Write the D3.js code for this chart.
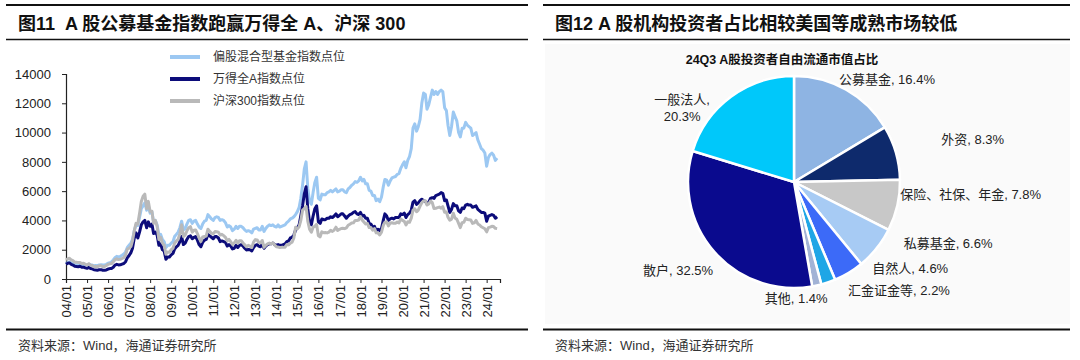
<!DOCTYPE html>
<html><head><meta charset="utf-8">
<script src="https://cdn.jsdelivr.net/npm/d3@7"></script>
<style>
html,body{margin:0;padding:0;background:#fff;}
svg{display:block;font-family:"Liberation Sans",Arial,"Noto Sans CJK SC",sans-serif;}
</style></head><body>
<svg id="c" width="1080" height="360"></svg>
<script>
// ---------- DATA ----------
const leftTitle = "图11  A 股公募基金指数跑赢万得全 A、沪深 300";
const rightTitle = "图12 A 股机构投资者占比相较美国等成熟市场较低";
const sourceText = "资料来源：Wind，海通证券研究所";
const seriesNames = ["偏股混合型基金指数点位", "万得全A指数点位", "沪深300指数点位"];
const firstMonth = [2004, 0];
const lastMonth = [2024, 6];
const fundIndex = [
1050,1120,1160,1100,1080,1030,1020,1000,1020,990,1000,970,
950,1010,960,950,900,920,910,960,970,950,960,1000,
1080,1120,1160,1300,1450,1550,1500,1550,1620,1700,1850,2150,
2300,2450,2700,3300,3700,3650,4200,4800,5000,5200,4700,5000,
4500,4600,3900,4000,3700,3000,3050,2700,2550,2150,2300,2300,
2450,2550,2900,3050,3200,3500,3950,3350,3450,3750,4000,4050,
3800,3950,4000,3750,3550,3450,3750,3950,4000,4400,4250,4100,
4000,4200,4250,4200,4000,4050,4000,3850,3550,3650,3550,3300,
3400,3600,3450,3600,3600,3500,3350,3250,3300,3250,3150,3400,
3450,3500,3350,3350,3600,3250,3450,3600,3700,3650,3700,3600,
3550,3700,3550,3600,3650,3700,3850,3950,4100,4150,4250,4400,
4600,4900,5500,6400,7500,8000,6200,5300,5100,5900,6600,6950,
5500,5400,5800,5750,5750,5900,5950,6050,5950,6050,6150,5950,
6000,6100,6100,5950,5900,6150,6250,6400,6500,6650,6600,6700,
6950,6700,6800,6500,6500,6050,6000,5700,5700,5350,5450,5280,
5600,6300,6800,6750,6400,6700,6900,6950,7000,7150,7200,7550,
7800,8000,7600,8100,8350,8900,10300,10600,10100,10400,10900,12000,
12700,12600,11600,11900,12400,12900,12600,12800,12600,12800,12900,12800,
11700,11500,10500,9800,10400,11400,11100,10800,10000,9700,10300,10300,
10700,10500,10400,10300,9800,9900,10000,9500,9200,8900,8800,8600,
7700,8300,8500,8600,8450,8100,8250];
const windA = [
1000,1080,1100,1000,950,870,860,840,870,800,810,760,
730,790,720,690,630,620,600,640,640,600,600,620,
680,710,720,800,950,1000,960,970,1020,1060,1180,1450,
1600,1800,2100,2800,3150,2800,3200,3700,3900,4000,3500,3900,
3600,3750,3100,3200,3000,2300,2400,2000,1900,1350,1500,1500,
1650,1750,2050,2200,2300,2550,2900,2350,2450,2700,2900,2950,
2750,2850,2900,2650,2350,2200,2500,2650,2700,3050,2950,2850,
2750,2900,2900,2800,2550,2600,2550,2500,2250,2350,2250,2050,
2100,2300,2150,2300,2350,2250,2100,1980,2020,2000,1920,2150,
2300,2350,2250,2200,2400,2100,2250,2350,2400,2400,2450,2350,
2300,2350,2300,2300,2350,2400,2550,2600,2800,2850,3000,3350,
3500,3700,4300,5000,5800,6300,4800,3900,3700,4300,4800,5000,
3900,3800,4100,4050,4050,4150,4150,4250,4200,4300,4450,4250,
4350,4450,4450,4300,4150,4300,4400,4450,4550,4600,4450,4400,
4550,4300,4350,4150,4150,3800,3750,3550,3600,3300,3400,3300,
3450,4000,4450,4300,4000,4100,4150,4100,4200,4200,4200,4450,
4400,4500,4200,4400,4500,4700,5250,5350,5100,5200,5350,5450,
5350,5300,5150,5250,5500,5550,5500,5700,5750,5800,5900,5850,
5350,5400,5000,4550,4750,5150,5000,5000,4650,4550,4850,4800,
5050,5100,5050,5050,4900,4950,5000,4750,4650,4550,4550,4500,
3950,4300,4350,4400,4350,4150,4250];
const csi300 = [
1300,1380,1420,1300,1250,1150,1150,1120,1130,1060,1080,1000,
960,1040,950,920,840,860,840,900,900,850,850,923,
1000,1040,1050,1180,1320,1380,1330,1340,1400,1460,1650,2040,
2100,2220,2600,3300,3800,3750,4470,5300,5650,5800,4800,5300,
4600,4620,3800,4000,3600,2700,2850,2450,2300,1700,1850,1820,
2000,2100,2450,2600,2700,3100,3700,2900,3000,3300,3500,3575,
3200,3330,3350,3100,2800,2560,2870,2900,2930,3400,3250,3130,
3080,3240,3230,3200,3000,3050,2960,2850,2600,2700,2550,2350,
2460,2640,2450,2620,2620,2460,2330,2200,2300,2250,2150,2520,
2690,2670,2500,2470,2630,2160,2300,2400,2450,2400,2470,2330,
2200,2180,2150,2160,2160,2170,2350,2330,2450,2510,2800,3530,
3430,3570,3980,4700,4800,4950,3950,3400,3200,3530,3600,3730,
2950,2880,3220,3160,3170,3150,3200,3330,3250,3340,3540,3310,
3390,3450,3460,3440,3490,3670,3740,3820,3840,4000,4000,4030,
4270,4020,3900,3760,3800,3510,3520,3330,3440,3150,3140,3010,
3200,3670,3870,3910,3630,3830,3840,3800,3810,3890,3830,4100,
4000,3940,3690,3910,3870,4160,4700,4800,4590,4700,4980,5210,
5350,5340,5050,5120,5330,5220,4810,4830,4870,4910,4830,4940,
4560,4580,4220,4020,4090,4490,4170,4080,3800,3510,3850,3870,
4150,4060,4050,4030,3800,3840,4000,3760,3690,3570,3500,3430,
3220,3510,3540,3600,3580,3460,3440];
const xTickLabels = ["04/01","05/01","06/01","07/01","08/01","09/01","10/01","11/01","12/01","13/01","14/01","15/01","16/01","17/01","18/01","19/01","20/01","21/01","22/01","23/01","24/01"];
const yTickValues = [0,2000,4000,6000,8000,10000,12000,14000];

const pieTitle = "24Q3 A股投资者自由流通市值占比";
const pieCategories = ["公募基金","外资","保险、社保、年金","私募基金","自然人","汇金证金等","其他","散户","一般法人"];
const pieValues = [16.4, 8.3, 7.8, 6.6, 4.6, 2.2, 1.4, 32.5, 20.3];

// ---------- STYLE / LAYOUT ----------
const seriesColors = ["#9CC8F2", "#0C0C7A", "#B9B9B9"];
const pieColors = ["#8EB4E3","#0E2A6C","#C8C8C8","#A7CBF4","#3C6AF8","#1FA6E6","#A2B3D6","#0A0A8E","#00C8FA"];
const labelNudge = [[26,16],[48,-5],[44,-18],[48,-24],[46,-30],[61,-20],[-27,-16],[-14,-2],[-31,35]];

const svg = d3.select("#c");

function frame(x0, x1) {
  svg.append("line").attr("x1",x0).attr("x2",x1).attr("y1",5).attr("y2",5).attr("stroke","#111").attr("stroke-width",2);
  svg.append("line").attr("x1",x0).attr("x2",x1).attr("y1",39.5).attr("y2",39.5).attr("stroke","#111").attr("stroke-width",1.6);
  svg.append("line").attr("x1",x0).attr("x2",x1).attr("y1",329.5).attr("y2",329.5).attr("stroke","#111").attr("stroke-width",2);
}
svg.append("rect").attr("x",545).attr("y",44).attr("width",525).attr("height",280).attr("fill","#fafafa");
frame(6, 528);
frame(543, 1070);

svg.append("text").attr("x",18).attr("y",30).attr("font-size",18).attr("font-weight","bold").attr("fill","#111")
  .style("white-space","pre").text(leftTitle);
svg.append("text").attr("x",555).attr("y",30).attr("font-size",18).attr("font-weight","bold").attr("fill","#111")
  .style("white-space","pre").text(rightTitle);
svg.append("text").attr("x",18).attr("y",350).attr("font-size",13).attr("fill","#333").text(sourceText);
svg.append("text").attr("x",555).attr("y",350).attr("font-size",13).attr("fill","#333").text(sourceText);

// ---------- LINE CHART ----------
const dates = d3.timeMonth.range(new Date(firstMonth[0], firstMonth[1], 1), new Date(lastMonth[0], lastMonth[1] + 1, 1));
const x = d3.scaleTime().domain([new Date(2004,0,1), new Date(2024,7,20)]).range([66, 500]);
const y = d3.scaleLinear().domain([0,14000]).range([279, 74]);

const g = svg.append("g");
const xTickDates = xTickLabels.map((s,i) => new Date(2004 + i, 0, 1));

const xAxis = d3.axisBottom(x).tickValues(xTickDates).tickSize(4).tickFormat((d,i) => xTickLabels[i]);
const xg = g.append("g").attr("transform","translate(0,279)").call(xAxis);
xg.select(".domain").attr("stroke","#222").attr("stroke-width",1.2);
xg.selectAll(".tick line").attr("stroke","#222");
xg.selectAll(".tick text").attr("font-size",13).attr("fill","#222")
  .attr("font-family","Liberation Sans, Arial, sans-serif")
  .attr("text-anchor","end").attr("transform","rotate(-90)")
  .attr("x",-6).attr("y",0).attr("dy","0.35em");

const yAxis = d3.axisLeft(y).tickValues(yTickValues).tickSize(4).tickFormat(d3.format("d"));
const yg = g.append("g").attr("transform","translate(66,0)").call(yAxis);
yg.select(".domain").attr("stroke","#222").attr("stroke-width",1.2);
yg.selectAll(".tick line").attr("stroke","#222");
yg.selectAll(".tick text").attr("font-size",13).attr("fill","#222").attr("x",-15)
  .attr("font-family","Liberation Sans, Arial, sans-serif");

const allSeries = [fundIndex, windA, csi300];
const line = d3.line().x((d,i) => x(dates[i])).y(d => y(d)).curve(d3.curveLinear);
allSeries.forEach((s, k) => {
  g.append("path").datum(s).attr("d", line).attr("fill","none")
    .attr("stroke", seriesColors[k]).attr("stroke-width", 3).attr("stroke-linejoin","round");
});

seriesNames.forEach((name, k) => {
  const ly = 57 + k * 22;
  g.append("line").attr("x1",170).attr("x2",200).attr("y1",ly).attr("y2",ly)
    .attr("stroke",seriesColors[k]).attr("stroke-width",4);
  g.append("text").attr("x",213).attr("y",ly).attr("dy","0.35em").attr("font-size",12).attr("fill","#333").text(name);
});

// ---------- PIE CHART ----------
const cx = 794, cy = 182, r = 106;
const pg = svg.append("g").attr("transform",`translate(${cx},${cy})`);
pg.append("text").attr("x",782 - cx).attr("y",60 - cy).attr("dy","0.35em").attr("text-anchor","middle")
  .attr("font-size",12.5).attr("font-weight","bold").attr("fill","#111").text(pieTitle);

const pie = d3.pie().sort(null).value(d => d);
const arcs = pie(pieValues);
const arc = d3.arc().innerRadius(0).outerRadius(r);
const labelArc = d3.arc().innerRadius(136).outerRadius(136);
pg.selectAll("path.slice").data(arcs).enter().append("path").attr("class","slice")
  .attr("d", arc).attr("fill", (d,i) => pieColors[i]).attr("stroke","#fff").attr("stroke-width",2.5).attr("stroke-linejoin","round");

arcs.forEach((a, i) => {
  const c = labelArc.centroid(a);
  const lx = c[0] + labelNudge[i][0], ly = c[1] + labelNudge[i][1];
  const t = pg.append("text").attr("text-anchor","middle").attr("font-size",13).attr("fill","#222");
  if (i === 8) {
    t.append("tspan").attr("x",lx).attr("y",ly - 8).attr("dy","0.35em").text(pieCategories[i] + ",");
    t.append("tspan").attr("x",lx).attr("y",ly + 9).attr("dy","0.35em").text(pieValues[i].toFixed(1) + "%");
  } else {
    t.attr("x",lx).attr("y",ly).attr("dy","0.35em").text(pieCategories[i] + ", " + pieValues[i].toFixed(1) + "%");
  }
});
</script>
</body></html>
